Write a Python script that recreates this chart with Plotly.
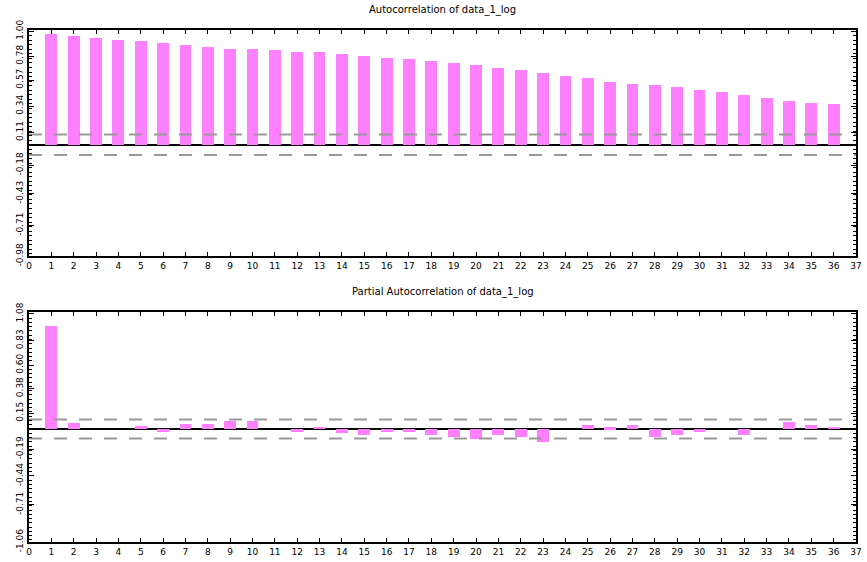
import plotly.graph_objects as go

# Lags shown on both correlograms
lags = list(range(1, 37))

# Sample autocorrelation of data_1_log, lags 1..36
acf_values = [0.972, 0.957, 0.940, 0.925, 0.911, 0.894, 0.879, 0.861, 0.846, 0.846,
              0.832, 0.818, 0.818, 0.800, 0.783, 0.765, 0.757, 0.739, 0.722, 0.704,
              0.678, 0.660, 0.634, 0.602, 0.585, 0.556, 0.538, 0.527, 0.510, 0.480,
              0.462, 0.434, 0.416, 0.387, 0.370, 0.355]

# Sample partial autocorrelation of data_1_log, lags 1..36
pacf_values = [0.972, 0.061, 0.0, 0.0, 0.030, -0.022, 0.046, 0.046, 0.077, 0.077,
               0.0, -0.025, 0.022, -0.040, -0.058, -0.025, -0.025, -0.058, -0.077, -0.090,
               -0.058, -0.077, -0.123, 0.0, 0.037, 0.018, 0.037, -0.077, -0.058, -0.025,
               0.0, -0.058, 0.0, 0.068, 0.037, 0.022]

# Approximate 95% confidence band
conf_bound = 0.09

# Axis ticks
x_ticks = list(range(0, 38))
acf_yticks = [1.00, 0.78, 0.57, 0.34, 0.11, -0.18, -0.43, -0.71, -0.98]
acf_ylabels = ["1.00", "0.78", "0.57", "0.34", "0.11", "-0.18", "-0.43", "-0.71", "-0.98"]
pacf_yticks = [1.08, 0.83, 0.60, 0.38, 0.15, -0.19, -0.44, -0.71, -1.06]
pacf_ylabels = ["1.08", "0.83", "0.60", "0.38", "0.15", "-0.19", "-0.44", "-0.71", "-1.06"]

acf_range = [-0.98, 1.01]
pacf_range = [-1.06, 1.10]

BAR_COLOR = "#ff80ff"
BAND_COLOR = "#999999"
FONT = "DejaVu Sans"

fig = go.Figure()

panels = [
    ("x", "y", acf_values),
    ("x2", "y2", pacf_values),
]
for xa, ya, vals in panels:
    fig.add_trace(go.Bar(
        x=lags, y=vals, width=0.53, marker=dict(color=BAR_COLOR, line=dict(width=0)),
        xaxis=xa, yaxis=ya, showlegend=False, hoverinfo="x+y",
    ))
    for b in (conf_bound, -conf_bound):
        fig.add_trace(go.Scatter(
            x=[0, 37], y=[b, b], mode="lines",
            line=dict(color=BAND_COLOR, width=2, dash="13px,12px"),
            xaxis=xa, yaxis=ya, showlegend=False, hoverinfo="skip",
        ))

xaxis_common = dict(
    range=[0, 37], tickmode="array", tickvals=x_ticks, ticktext=[str(t) for t in x_ticks],
    ticks="inside", ticklen=4, tickwidth=1, tickcolor="black", mirror="ticks",
    showline=True, linecolor="black", linewidth=2, showgrid=False, zeroline=False,
    tickfont=dict(family=FONT, size=9, color="black"),
)
yaxis_common = dict(
    ticks="inside", ticklen=5, tickwidth=1, tickcolor="black", mirror="ticks",
    showline=True, linecolor="black", linewidth=2, showgrid=False,
    zeroline=True, zerolinecolor="black", zerolinewidth=2,
    tickangle=-90, tickfont=dict(family=FONT, size=9, color="black"),
    minor=dict(ticks="inside", ticklen=3, tickwidth=1, tickcolor="black",
               dtick=0.04, tick0=0, showgrid=False),
)

fig.update_layout(
    width=867, height=562,
    margin=dict(l=29, r=5, t=30, b=16),
    paper_bgcolor="white", plot_bgcolor="white",
    bargap=0,
    xaxis=dict(xaxis_common, anchor="y", domain=[0, 1]),
    yaxis=dict(yaxis_common, anchor="x", domain=[0.5581, 1.0], range=acf_range,
               tickmode="array", tickvals=acf_yticks, ticktext=acf_ylabels),
    xaxis2=dict(xaxis_common, anchor="y2", domain=[0, 1]),
    yaxis2=dict(yaxis_common, anchor="x2", domain=[0.0, 0.4496], range=pacf_range,
                tickmode="array", tickvals=pacf_yticks, ticktext=pacf_ylabels),
    annotations=[
        dict(text="Autocorrelation of data_1_log", xref="paper", yref="paper",
             x=0.5, y=1.0, yshift=12, showarrow=False, xanchor="center", yanchor="bottom",
             font=dict(family=FONT, size=10, color="black")),
        dict(text="Partial Autocorrelation of data_1_log", xref="paper", yref="paper",
             x=0.5, y=0.4496, yshift=12, showarrow=False, xanchor="center", yanchor="bottom",
             font=dict(family=FONT, size=10, color="black")),
    ],
)

fig.write_html("out.html")
